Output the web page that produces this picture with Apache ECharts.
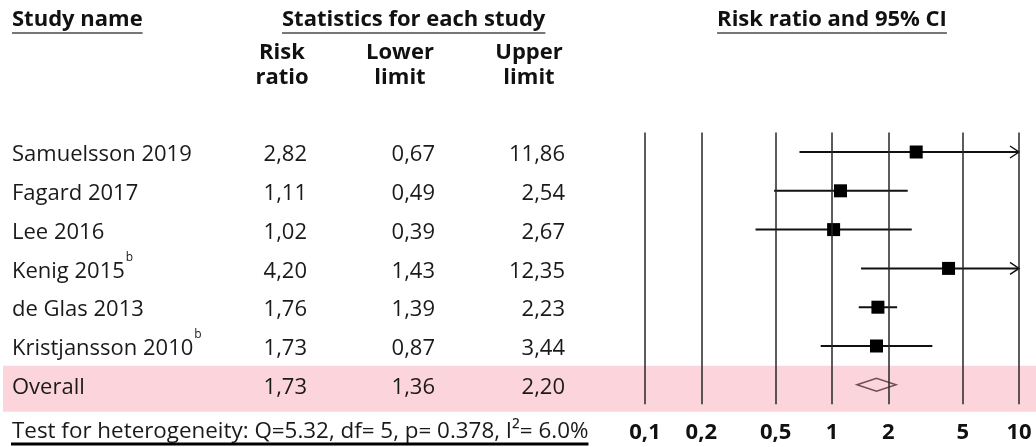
<!DOCTYPE html>
<html>
<head>
<meta charset="utf-8">
<script src="https://cdn.jsdelivr.net/npm/echarts@6/dist/echarts.min.js"></script>
<style>
  html, body { margin: 0; padding: 0; background: #ffffff; }
  #chart { width: 1036px; height: 447px; }
</style>
</head>
<body>
<div id="chart"></div>
<script>
// Forest plot: risk ratios with 95% confidence intervals on a log scale
const studies = ['Samuelsson 2019', 'Fagard 2017', 'Lee 2016', 'Kenig 2015', 'de Glas 2013', 'Kristjansson 2010', 'Overall'];
const footnotes = ['', '', '', 'b', '', 'b', ''];
const riskRatio = [2.82, 1.11, 1.02, 4.20, 1.76, 1.73, 1.73];
const lowerLimit = [0.67, 0.49, 0.39, 1.43, 1.39, 0.87, 1.36];
const upperLimit = [11.86, 2.54, 2.67, 12.35, 2.23, 3.44, 2.20];
const tickValues = [0.1, 0.2, 0.5, 1, 2, 5, 10];
const heterogeneity = 'Test for heterogeneity: Q=5.32, df= 5, p= 0.378, I\u00B2= 6.0%';

const FONT = '"Open Sans", "DejaVu Sans", sans-serif';
const TEXT = '#1a1a1a';
const X_MIN = 0.1, X_MAX = 10;
const overall = studies.length - 1;

function fmt(v) { return v.toFixed(2).replace('.', ','); }

const measureCtx = document.createElement('canvas').getContext('2d');
function textWidth(str, size, weight) {
  measureCtx.font = (weight || 'normal') + ' ' + size + 'px ' + FONT;
  return measureCtx.measureText(str).width;
}

const ciData = [];
const pointData = [];
for (let i = 0; i < overall; i++) {
  ciData.push([lowerLimit[i], upperLimit[i], i]);
  pointData.push([riskRatio[i], i]);
}
const summaryData = [[lowerLimit[overall], riskRatio[overall], upperLimit[overall], overall]];

const chart = echarts.init(document.getElementById('chart'), null, { renderer: 'canvas' });

chart.setOption({
  animation: false,
  backgroundColor: '#ffffff',
  grid: { left: 645, right: 17, top: 132.6, height: 271.6, containLabel: false },
  xAxis: {
    type: 'log',
    logBase: 10,
    min: X_MIN,
    max: X_MAX,
    axisLine: { show: false },
    axisTick: { show: false },
    splitLine: { show: false },
    axisLabel: {
      customValues: tickValues,
      formatter: v => String(+v.toPrecision(3)).replace('.', ','),
      fontFamily: FONT,
      fontWeight: 'bold',
      fontSize: 22,
      color: '#111111',
      margin: 18
    }
  },
  yAxis: { type: 'value', min: -0.5, max: 6.5, inverse: true, show: false },
  series: [
    {
      type: 'custom',
      name: 'ci',
      z: 3,
      data: ciData,
      encode: { x: [0, 1], y: 2 },
      renderItem(params, api) {
        const lo = api.value(0), hi = api.value(1), row = api.value(2);
        const p0 = api.coord([Math.max(lo, X_MIN), row]);
        const p1 = api.coord([Math.min(hi, X_MAX), row]);
        const children = [{
          type: 'line',
          shape: { x1: p0[0], y1: p0[1], x2: p1[0], y2: p1[1] },
          style: { stroke: '#111111', lineWidth: 2 }
        }];
        if (hi > X_MAX) {
          children.push({
            type: 'polyline',
            shape: { points: [[p1[0] - 9, p1[1] - 6], [p1[0], p1[1]], [p1[0] - 9, p1[1] + 6]] },
            style: { stroke: '#111111', lineWidth: 1.5, fill: null }
          });
        }
        return { type: 'group', children };
      },
      markLine: {
        silent: true,
        symbol: 'none',
        label: { show: false },
        lineStyle: { color: '#262626', width: 1.5, type: 'solid' },
        data: tickValues.map(v => ({ xAxis: v }))
      }
    },
    {
      type: 'scatter',
      name: 'estimate',
      z: 4,
      symbol: 'rect',
      symbolSize: 13,
      itemStyle: { color: '#000000', opacity: 1 },
      data: pointData
    },
    {
      type: 'custom',
      name: 'overall',
      z: 4,
      data: summaryData,
      encode: { x: [0, 1, 2], y: 3 },
      renderItem(params, api) {
        const row = api.value(3);
        const a = api.coord([api.value(0), row]);
        const m = api.coord([api.value(1), row]);
        const b = api.coord([api.value(2), row]);
        const h = 6.5;
        return {
          type: 'polygon',
          shape: { points: [[a[0], a[1]], [m[0], m[1] - h], [b[0], b[1]], [m[0], m[1] + h]] },
          style: { stroke: '#6e4f52', lineWidth: 1.5, fill: null }
        };
      }
    }
  ]
});

// Table text, headers and the highlighted summary row
const rowY = i => chart.convertToPixel({ yAxisIndex: 0 }, i);
const centreCI = chart.convertToPixel({ xAxisIndex: 0 }, 1);
const graphics = [];

const yOverall = rowY(overall);
graphics.push({
  type: 'rect', z: -10, silent: true,
  shape: { x: 3, y: yOverall - 19, width: 1033, height: 46 },
  style: { fill: '#fcd5dc' }
});

function addText(str, x, y, opts) {
  opts = opts || {};
  graphics.push({
    type: 'text', z: 100, silent: true, x, y,
    style: {
      text: str,
      font: (opts.weight || 'normal') + ' ' + (opts.size || 22) + 'px ' + FONT,
      fill: opts.color || TEXT,
      align: opts.align || 'left',
      verticalAlign: opts.valign || 'middle'
    }
  });
}
function addUnderline(x1, x2, y, color, width) {
  graphics.push({
    type: 'line', z: 100, silent: true,
    shape: { x1, y1: y, x2, y2: y },
    style: { stroke: color, lineWidth: width }
  });
}

// column titles
const titleY = 20;
const titles = [
  { str: 'Study name', x: 12 },
  { str: 'Statistics for each study', x: 282 },
  { str: 'Risk ratio and 95% CI', x: centreCI - textWidth('Risk ratio and 95% CI', 22, 'bold') / 2 }
];
titles.forEach(t => {
  addText(t.str, t.x, titleY, { weight: 'bold', color: '#111111' });
  addUnderline(t.x, t.x + textWidth(t.str, 22, 'bold'), 33, '#777777', 2);
});

// statistic sub-headers
const subHeaders = [['Risk', 'ratio', 282], ['Lower', 'limit', 400], ['Upper', 'limit', 529]];
subHeaders.forEach(h => {
  addText(h[0], h[2], 53, { weight: 'bold', align: 'center', color: '#111111' });
  addText(h[1], h[2], 78, { weight: 'bold', align: 'center', color: '#111111' });
});

// study rows
const textOffset = 3;
for (let i = 0; i < studies.length; i++) {
  const y = rowY(i) + textOffset;
  addText(studies[i], 12, y);
  if (footnotes[i]) {
    addText(footnotes[i], 12 + textWidth(studies[i], 22) + 1, y - 14, { size: 12 });
  }
  addText(fmt(riskRatio[i]), 307, y, { align: 'right' });
  addText(fmt(lowerLimit[i]), 435, y, { align: 'right' });
  addText(fmt(upperLimit[i]), 565, y, { align: 'right' });
}

// heterogeneity statistics
const hetSize = 22.4;
addText(heterogeneity, 12, 432, { size: hetSize });
addUnderline(11, 12 + textWidth(heterogeneity, hetSize), 444, '#000000', 3);

chart.setOption({ graphic: graphics });
</script>
</body>
</html>
